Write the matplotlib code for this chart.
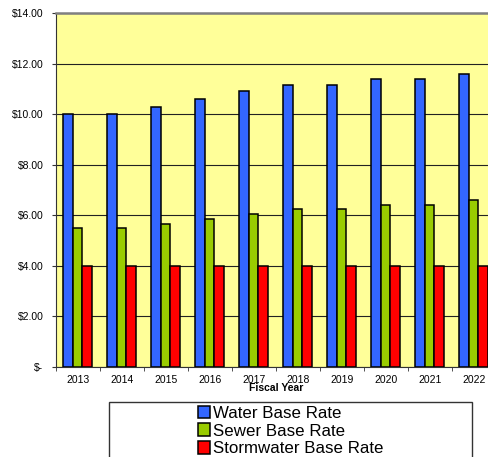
import matplotlib

matplotlib.use("Agg")
import matplotlib.pyplot as plt
import numpy as np
from matplotlib.patches import Rectangle

plt.rcParams["font.family"] = ["Liberation Sans", "DejaVu Sans"]

years = ["2013", "2014", "2015", "2016", "2017", "2018", "2019", "2020", "2021", "2022"]
water_rate = [10.00, 10.00, 10.30, 10.60, 10.92, 11.14, 11.14, 11.37, 11.37, 11.60]
sewer_rate = [5.50, 5.50, 5.67, 5.86, 6.05, 6.23, 6.23, 6.42, 6.42, 6.61]
storm_rate = [4.00, 4.00, 4.00, 4.00, 4.00, 4.00, 4.00, 4.00, 4.00, 4.00]
series_names = ["Water Base Rate", "Sewer Base Rate", "Stormwater Base Rate"]
colors = ["#3366FF", "#99CC00", "#FF0000"]

fig = plt.figure(figsize=(4.89, 4.57), dpi=100)
ax = fig.add_axes([0.1145, 0.197, 0.9, 0.7746])
ax.set_facecolor("#FFFF99")

x = np.arange(len(years))
width = 0.215
handles = []
for i, (values, color, name) in enumerate(zip([water_rate, sewer_rate, storm_rate], colors, series_names)):
    bars = ax.bar(x + (i - 1) * width - 0.015, values, width=width, color=color,
                  edgecolor="black", linewidth=1.1, label=name, zorder=3)
    handles.append(bars)

ax.set_xlim(-0.5, len(years) - 0.5)
ax.set_ylim(0, 14)
ax.set_yticks(np.arange(0, 15, 2))
ax.set_yticklabels(["$-" if v == 0 else f"${v:.2f}" for v in np.arange(0, 15, 2)], fontsize=7.5)
ax.set_xticks(x)
ax.set_xticklabels(years, fontsize=7.5)
ax.set_xticks(np.arange(-0.5, len(years)), minor=True)
ax.tick_params(axis="x", which="major", length=0, pad=6)
ax.tick_params(axis="x", which="minor", length=3, color="#333333")
ax.tick_params(axis="y", length=3, color="#333333", pad=6)
ax.grid(axis="y", color="#222222", linewidth=0.8, zorder=1)
ax.set_axisbelow(True)
ax.set_xlabel("Fiscal Year", fontsize=7.5, fontweight="bold", labelpad=-1.5)

ax.spines["top"].set_color("#808080")
ax.spines["top"].set_linewidth(1.8)
ax.spines["left"].set_color("#333333")
ax.spines["bottom"].set_color("#333333")
ax.spines["right"].set_visible(False)

fig.patches.append(Rectangle((0.223, -0.1), 0.742, 0.221, transform=fig.transFigure,
                             facecolor="white", edgecolor="#333333", linewidth=1.0))
leg = fig.legend(handles, series_names, loc="upper left", bbox_to_anchor=(0.404, 0.112),
                 frameon=False, fontsize=12.2, handlelength=0.75, handleheight=0.75,
                 handletextpad=0.15, labelspacing=0.15, borderpad=0, borderaxespad=0)

fig.savefig("out.png", dpi=100)
